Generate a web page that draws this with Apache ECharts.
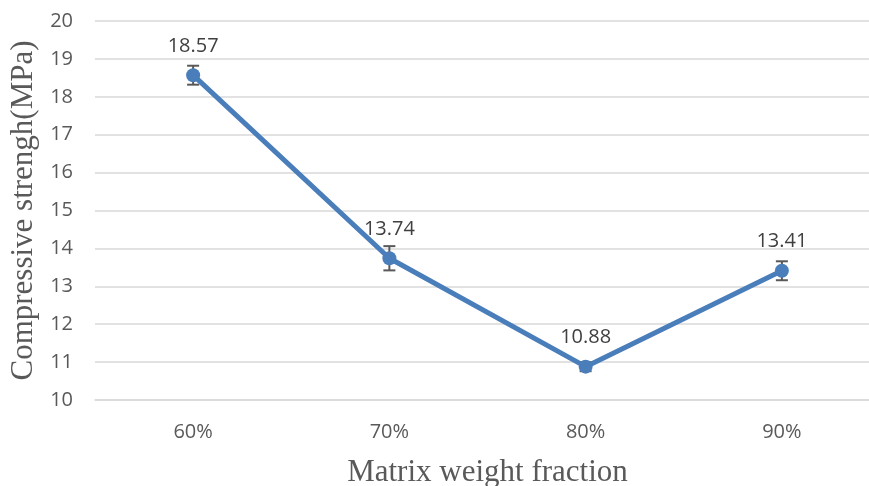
<!DOCTYPE html>
<html><head><meta charset="utf-8">
<script src="https://cdn.jsdelivr.net/npm/echarts@6/dist/echarts.min.js"></script>
<style>html,body{margin:0;padding:0;background:#fff}#c{width:869px;height:486px}</style>
</head><body><div id="c"></div>
<script>
const categories = ['60%', '70%', '80%', '90%'];
const strength = [18.57, 13.74, 10.88, 13.41];
const errors = [0.25, 0.32, 0.12, 0.25];
const yTicks = [10, 20, 1];

const chart = echarts.init(document.getElementById('c'));
const errData = categories.map((c, i) => [i, strength[i] - errors[i], strength[i] + errors[i]]);
chart.setOption({
  animation: false,
  grid: { left: 95, right: -11, top: 21, bottom: 86, outerBoundsMode: 'none', containLabel: false },
  xAxis: {
    type: 'category', data: categories, boundaryGap: true,
    axisLine: { lineStyle: { color: '#d9d9d9', width: 1.5 } },
    axisTick: { show: false },
    axisLabel: { color: '#595959', fontSize: 20, fontFamily: 'Open Sans', margin: 22 },
    name: 'Matrix weight fraction', nameLocation: 'middle', nameGap: 57,
    nameTextStyle: { color: '#595959', fontSize: 31, fontFamily: 'Liberation Serif' }
  },
  yAxis: {
    type: 'value', min: yTicks[0], max: yTicks[1], interval: yTicks[2],
    axisLine: { show: false }, axisTick: { show: false },
    splitLine: { lineStyle: { color: '#d9d9d9', width: 1.5 } },
    axisLabel: { color: '#595959', fontSize: 20, fontFamily: 'Open Sans', margin: 22 },
    name: 'Compressive strengh(MPa)', nameLocation: 'middle', nameGap: 49,
    nameTextStyle: { color: '#595959', fontSize: 31, fontFamily: 'Liberation Serif' }
  },
  series: [
    {
      type: 'custom', z: 3,
      renderItem: function (params, api) {
        const x = api.coord([api.value(0), api.value(1)])[0];
        const lo = api.coord([api.value(0), api.value(1)])[1];
        const hi = api.coord([api.value(0), api.value(2)])[1];
        const w = 6;
        const st = { stroke: '#595959', lineWidth: 2 };
        return { type: 'group', children: [
          { type: 'line', shape: { x1: x, y1: lo, x2: x, y2: hi }, style: st },
          { type: 'line', shape: { x1: x - w, y1: lo, x2: x + w, y2: lo }, style: st },
          { type: 'line', shape: { x1: x - w, y1: hi, x2: x + w, y2: hi }, style: st }
        ]};
      },
      encode: { x: 0, y: [1, 2] },
      data: errData
    },
    {
      type: 'line', data: strength, z: 4,
      symbol: 'circle', symbolSize: 14,
      lineStyle: { color: '#4a7ebb', width: 5 },
      itemStyle: { color: '#4a7ebb' },
      label: { show: true, position: 'top', distance: 12, color: '#404040', fontSize: 20, fontFamily: 'Open Sans',
        formatter: p => p.value.toFixed(2) }
    }
  ]
});
</script></body></html>
